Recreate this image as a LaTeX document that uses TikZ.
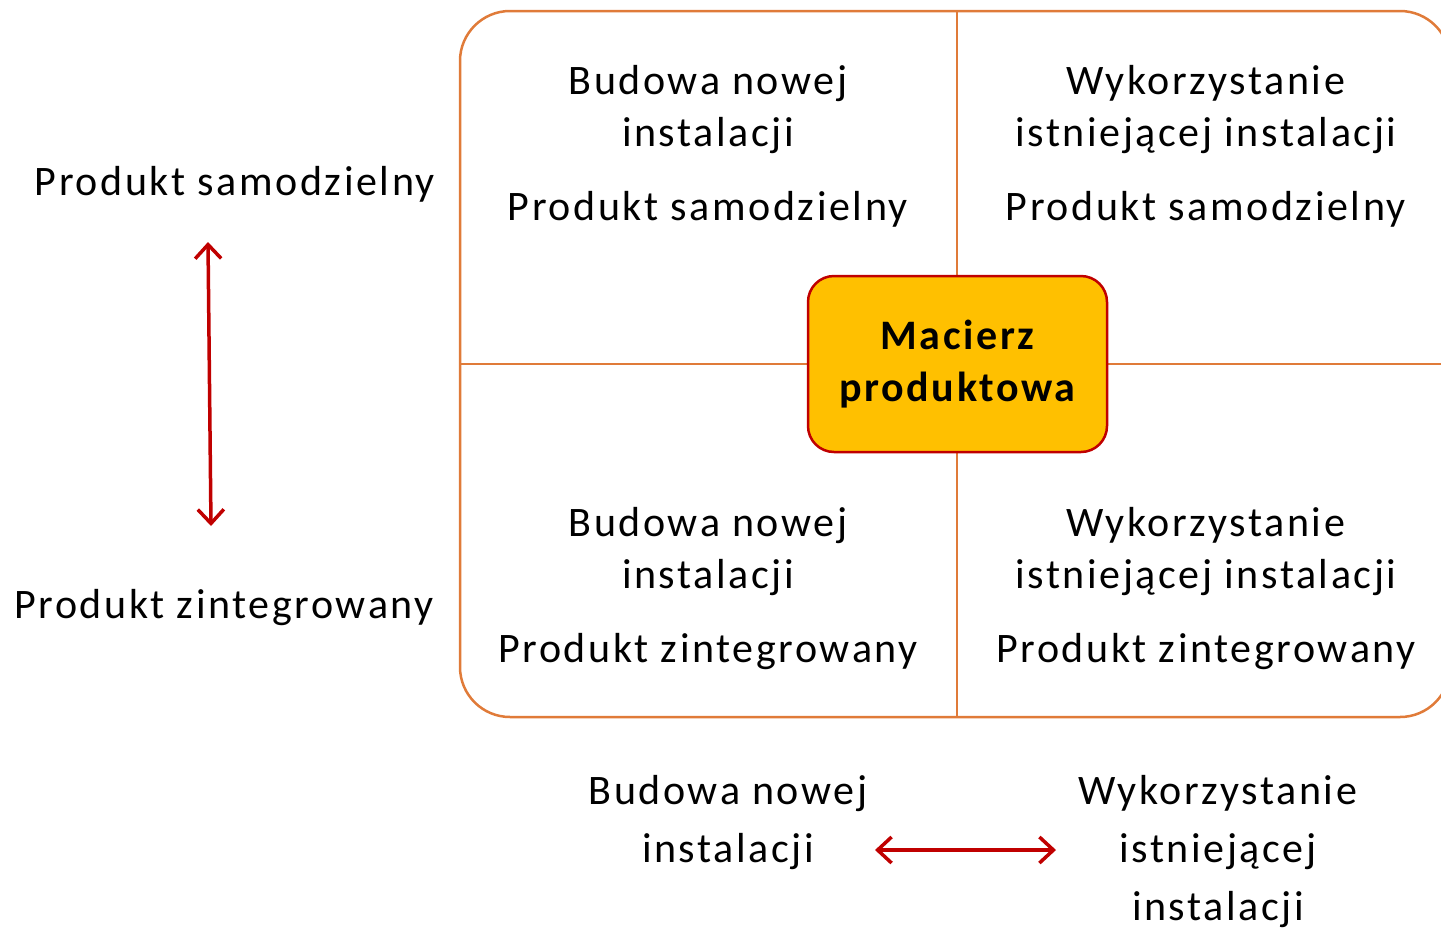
\documentclass[tikz,border=0pt]{standalone}
\usepackage{fontspec}
\setmainfont[LetterSpace=6.2]{Carlito}
\usetikzlibrary{arrows.meta}
\definecolor{frameor}{HTML}{E07B39}
\definecolor{darkred}{HTML}{C00000}
\definecolor{gold}{HTML}{FFC000}
\tikzset{
  txt/.style={align=center, inner sep=0pt, font=\fontsize{42}{52}\selectfont},
  txtb/.style={align=center, inner sep=0pt, font=\fontsize{42}{58}\selectfont},
  redarrow/.style={darkred, line width=3.5pt, {Straight Barb[length=14pt,width=26pt]}-{Straight Barb[length=14pt,width=26pt]}},
  frame/.style={frameor, line width=2.5pt},
  centerbox/.style={draw=darkred, fill=gold, line width=2.5pt, rounded corners=26pt, minimum width=299pt, minimum height=176pt, align=center, inner sep=0pt, font=\fontsize{42}{52}\selectfont\bfseries}
}
\begin{document}
\begin{tikzpicture}[x=1pt,y=-1pt]
\useasboundingbox (0,0) rectangle (1441,927);
% frame
\draw[frame, rounded corners=50pt] (460,11) rectangle (1450,717);
\draw[frame] (957,11) -- (957,717);
\draw[frame] (460,364) -- (1450,364);
% center
\node[centerbox] (center) at (957.5,364) {Macierz\\produktowa};
% cells
\node[txt, anchor=north] (tl) at (708,65) {Budowa nowej\\instalacji\\[22pt]Produkt samodzielny};
\node[txt, anchor=north] (tr) at (1206,65) {Wykorzystanie\\istniejącej instalacji\\[22pt]Produkt samodzielny};
\node[txt, anchor=north] (bl) at (708,507) {Budowa nowej\\instalacji\\[22pt]Produkt zintegrowany};
\node[txt, anchor=north] (br) at (1206,507) {Wykorzystanie\\istniejącej instalacji\\[22pt]Produkt zintegrowany};
% left labels
\node[txt] (ls) at (235,184) {Produkt samodzielny};
\node[txt] (lz) at (224,608) {Produkt zintegrowany};
\coordinate (va) at (208,242);
\coordinate (vb) at (211,526);
\draw[redarrow] (va) -- (vb);
% bottom labels
\node[txtb, anchor=north] (bb) at (728,775) {Budowa nowej\\instalacji};
\node[txtb, anchor=north] (bw) at (1218,775) {Wykorzystanie\\istniejącej\\instalacji};
\coordinate (ha) at (875,850);
\coordinate (hb) at (1056,850);
\draw[redarrow] (ha) -- (hb);
\end{tikzpicture}
\end{document}
